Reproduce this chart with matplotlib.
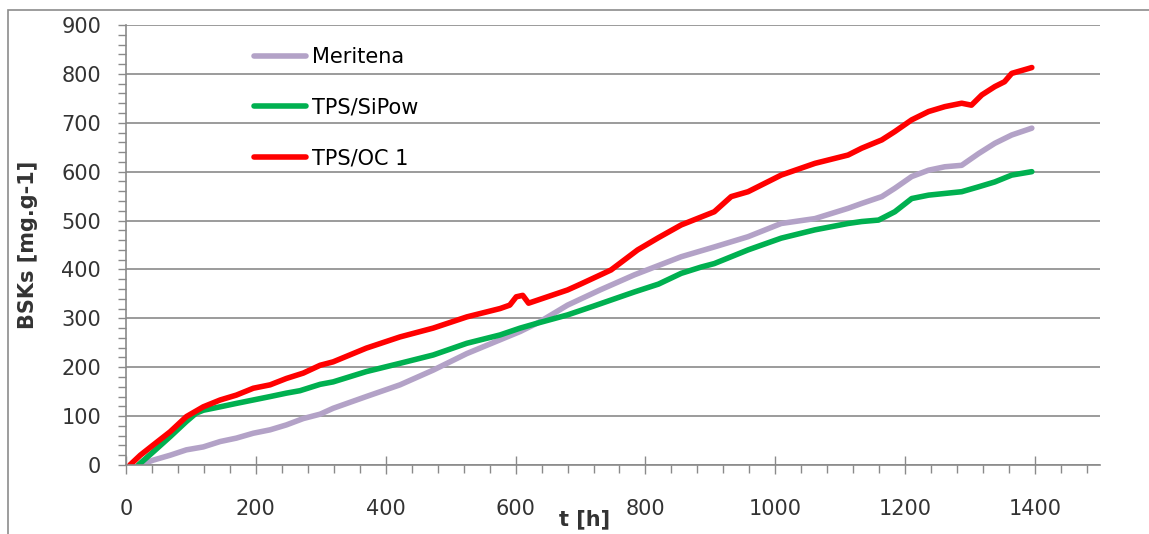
import numpy as np
import matplotlib.pyplot as plt
from matplotlib.patches import Rectangle
from matplotlib.ticker import MultipleLocator

# Meritena
t_mer = [21, 42, 68, 93, 119, 145, 170, 196, 222, 247, 273, 299, 319, 370, 422, 473,
         525, 576, 607, 636, 680, 730, 783, 820, 855, 906, 958, 1009, 1061, 1112, 1133,
         1164, 1184, 1210, 1236, 1261, 1287, 1313, 1338, 1364, 1395]
v_mer = [0, 10, 20, 31, 37, 48, 55, 65, 72, 82, 95, 104, 116, 140, 164, 194,
         228, 256, 273, 292, 327, 358, 389, 408, 426, 446, 467, 494, 504, 525, 535,
         549, 566, 590, 603, 610, 613, 637, 658, 675, 689]

# TPS/SiPow
t_sip = [19, 42, 68, 93, 108, 119, 145, 170, 196, 222, 247, 268, 299, 319, 370, 422,
         473, 525, 576, 607, 636, 680, 720, 783, 820, 855, 886, 906, 958, 1009, 1061,
         1112, 1133, 1159, 1184, 1210, 1236, 1287, 1313, 1338, 1364, 1395]
v_sip = [0, 27, 58, 89, 106, 112, 119, 126, 133, 140, 147, 152, 165, 170, 191, 208,
         225, 249, 266, 280, 291, 307, 325, 354, 370, 392, 405, 412, 440, 464, 481,
         494, 498, 501, 518, 545, 552, 559, 569, 579, 593, 600]

# TPS/OC 1
t_oc = [6, 22, 42, 68, 93, 119, 145, 170, 196, 222, 247, 273, 299, 319, 370, 422, 473,
        525, 576, 591, 601, 611, 620, 640, 680, 700, 747, 788, 820, 855, 906, 932, 958,
        1009, 1061, 1112, 1133, 1164, 1184, 1210, 1236, 1261, 1287, 1302, 1318, 1338,
        1353, 1364, 1390, 1395]
v_oc = [0, 20, 41, 68, 99, 119, 133, 143, 157, 164, 177, 188, 204, 211, 239, 262, 280,
        303, 320, 327, 344, 347, 331, 340, 358, 370, 399, 440, 465, 491, 518, 549, 559,
        593, 617, 634, 648, 665, 682, 706, 723, 733, 740, 736, 757, 774, 784, 801, 811,
        813]

labels = ["Meritena", "TPS/SiPow", "TPS/OC 1"]
colors = ["#b3a2c7", "#00b050", "#ff0000"]

plt.rcParams['font.family'] = ['DejaVu Sans']

fig = plt.figure(figsize=(11.49, 5.34), dpi=100)
ax = fig.add_axes([126 / 1149, 1 - 465 / 534, 974 / 1149, 440 / 534])

# outer chart border
fig.patches.append(Rectangle((7.5 / 1149, -0.05), 1.1, 1 - 9.5 / 534 + 0.05,
                             transform=fig.transFigure, fill=False,
                             edgecolor="#8c8c8c", lw=1.2, clip_on=False))

for t, v, lab, c in zip([t_mer, t_sip, t_oc], [v_mer, v_sip, v_oc], labels, colors):
    ax.plot(t, v, color=c, lw=4, label=lab, solid_capstyle="round")

ax.set_xlim(0, 1500)
ax.set_ylim(0, 900)
ax.xaxis.set_major_locator(MultipleLocator(200))
ax.xaxis.set_minor_locator(MultipleLocator(40))
ax.yaxis.set_major_locator(MultipleLocator(100))
ax.yaxis.set_minor_locator(MultipleLocator(20))
ax.set_xticks(np.arange(0, 1401, 200))

ax.grid(axis="y", which="major", color="#8a8a8a", lw=1.2)
ax.set_axisbelow(True)
for s in ["top", "right"]:
    ax.spines[s].set_visible(False)
for s in ["left", "bottom"]:
    ax.spines[s].set_color("#8a8a8a")
    ax.spines[s].set_linewidth(1.2)

ax.tick_params(axis="y", which="both", direction="out", length=6, width=1,
               color="#8a8a8a", labelsize=15, labelcolor="#333333", pad=12)
ax.tick_params(axis="x", which="major", direction="inout", length=13, width=1,
               color="#8a8a8a", labelsize=15, labelcolor="#333333", pad=18)
ax.tick_params(axis="x", which="minor", direction="out", length=6, width=1,
               color="#8a8a8a")

ax.set_ylabel("BSKs [mg.g-1]", fontsize=15, fontweight="bold", color="#333333")
ax.yaxis.set_label_coords(-0.09, 0.5)
ax.set_xlabel("t [h]", fontsize=15, fontweight="bold", color="#333333")
ax.xaxis.set_label_coords(0.471, -0.1)

ax.legend(loc="upper left", bbox_to_anchor=(0.1314, 0.950), frameon=False,
          fontsize=15, handlelength=2.5, handletextpad=0.3, labelspacing=1.47,
          borderpad=0, borderaxespad=0)

fig.savefig("out.png", dpi=100)
